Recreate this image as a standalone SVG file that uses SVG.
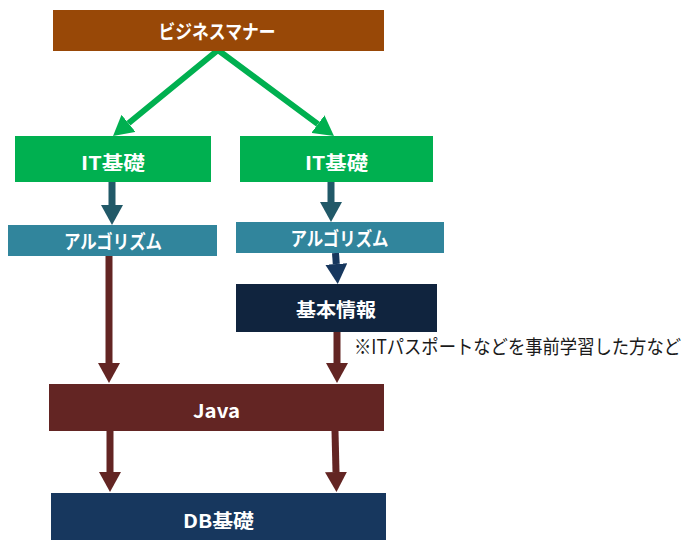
<svg xmlns="http://www.w3.org/2000/svg" width="687" height="540" viewBox="0 0 687 540">
<style>
.lbl{font-family:"Noto Sans CJK JP","Noto Sans",sans-serif;font-weight:bold;font-size:19px;fill:#ffffff;text-anchor:middle}
.note{font-family:"Noto Sans CJK JP","Noto Sans",sans-serif;font-size:17px;fill:#1a1a1a}
.ln{fill:none;stroke-linejoin:miter;stroke-linecap:butt}
</style>
<defs>
<marker id="hg" viewBox="0 0 20 22" refX="0" refY="11" markerWidth="20" markerHeight="22" markerUnits="userSpaceOnUse" orient="auto-start-reverse"><path d="M0,0 L20,11 L0,22 z" fill="#00B050"/></marker>
<marker id="ht" viewBox="0 0 20 22" refX="0" refY="11" markerWidth="20" markerHeight="22" markerUnits="userSpaceOnUse" orient="auto"><path d="M0,0 L20,11 L0,22 z" fill="#215968"/></marker>
<marker id="hn" viewBox="0 0 20 22" refX="0" refY="11" markerWidth="20" markerHeight="22" markerUnits="userSpaceOnUse" orient="auto"><path d="M0,0 L20,11 L0,22 z" fill="#17375E"/></marker>
<marker id="hr" viewBox="0 0 20 22" refX="0" refY="11" markerWidth="20" markerHeight="22" markerUnits="userSpaceOnUse" orient="auto"><path d="M0,0 L20,11 L0,22 z" fill="#632523"/></marker>
</defs>
<g id="connectors">
<path class="ln" d="M128.5,123.3 L218,50 L317.9,124.1" stroke="#00B050" stroke-width="6" marker-start="url(#hg)" marker-end="url(#hg)"/>
<line class="ln" x1="112" y1="182" x2="112" y2="205" stroke="#215968" stroke-width="7" marker-end="url(#ht)"/>
<line class="ln" x1="331" y1="182" x2="331" y2="202" stroke="#215968" stroke-width="7" marker-end="url(#ht)"/>
<line class="ln" x1="335.5" y1="253" x2="336.3" y2="264" stroke="#17375E" stroke-width="7" marker-end="url(#hn)"/>
<line class="ln" x1="109" y1="256" x2="109" y2="363" stroke="#632523" stroke-width="7" marker-end="url(#hr)"/>
<line class="ln" x1="337" y1="332" x2="337" y2="363" stroke="#632523" stroke-width="7" marker-end="url(#hr)"/>
<line class="ln" x1="110" y1="431" x2="110" y2="472" stroke="#632523" stroke-width="7" marker-end="url(#hr)"/>
<line class="ln" x1="335" y1="431" x2="336" y2="472" stroke="#632523" stroke-width="7" marker-end="url(#hr)"/>
</g>
<g id="n-business"><rect x="53" y="10" width="331" height="41" fill="#984807"/><text class="lbl" x="217" y="39" textLength="117" lengthAdjust="spacingAndGlyphs">ビジネスマナー</text></g>
<g id="n-it1"><rect x="15" y="136" width="196" height="46" fill="#00B050"/><text class="lbl" x="113" y="169.5" textLength="64" lengthAdjust="spacingAndGlyphs">IT基礎</text></g>
<g id="n-it2"><rect x="240" y="136" width="193" height="46" fill="#00B050"/><text class="lbl" x="336.5" y="169.5" textLength="63" lengthAdjust="spacingAndGlyphs">IT基礎</text></g>
<g id="n-algo1"><rect x="8" y="225" width="209" height="31" fill="#31859C"/><text class="lbl" x="113" y="249" textLength="98" lengthAdjust="spacingAndGlyphs">アルゴリズム</text></g>
<g id="n-algo2"><rect x="236" y="222" width="208" height="31" fill="#31859C"/><text class="lbl" x="339.5" y="246" textLength="98" lengthAdjust="spacingAndGlyphs">アルゴリズム</text></g>
<g id="n-kihon"><rect x="236" y="284" width="201" height="48" fill="#10243E"/><text class="lbl" x="336" y="316.5" textLength="80" lengthAdjust="spacingAndGlyphs">基本情報</text></g>
<g id="n-java"><rect x="49" y="384" width="335" height="47" fill="#632523"/><text class="lbl" x="216.5" y="418" textLength="47" lengthAdjust="spacingAndGlyphs">Java</text></g>
<g id="n-db"><rect x="51" y="493" width="335" height="47" fill="#17375E"/><text class="lbl" x="218.5" y="527.5" textLength="71" lengthAdjust="spacingAndGlyphs">DB基礎</text></g>
<g id="note"><text class="note" transform="translate(354,354) scale(1,1.15)" x="0" y="0" textLength="327" lengthAdjust="spacingAndGlyphs">※ITパスポートなどを事前学習した方など</text></g>
</svg>
